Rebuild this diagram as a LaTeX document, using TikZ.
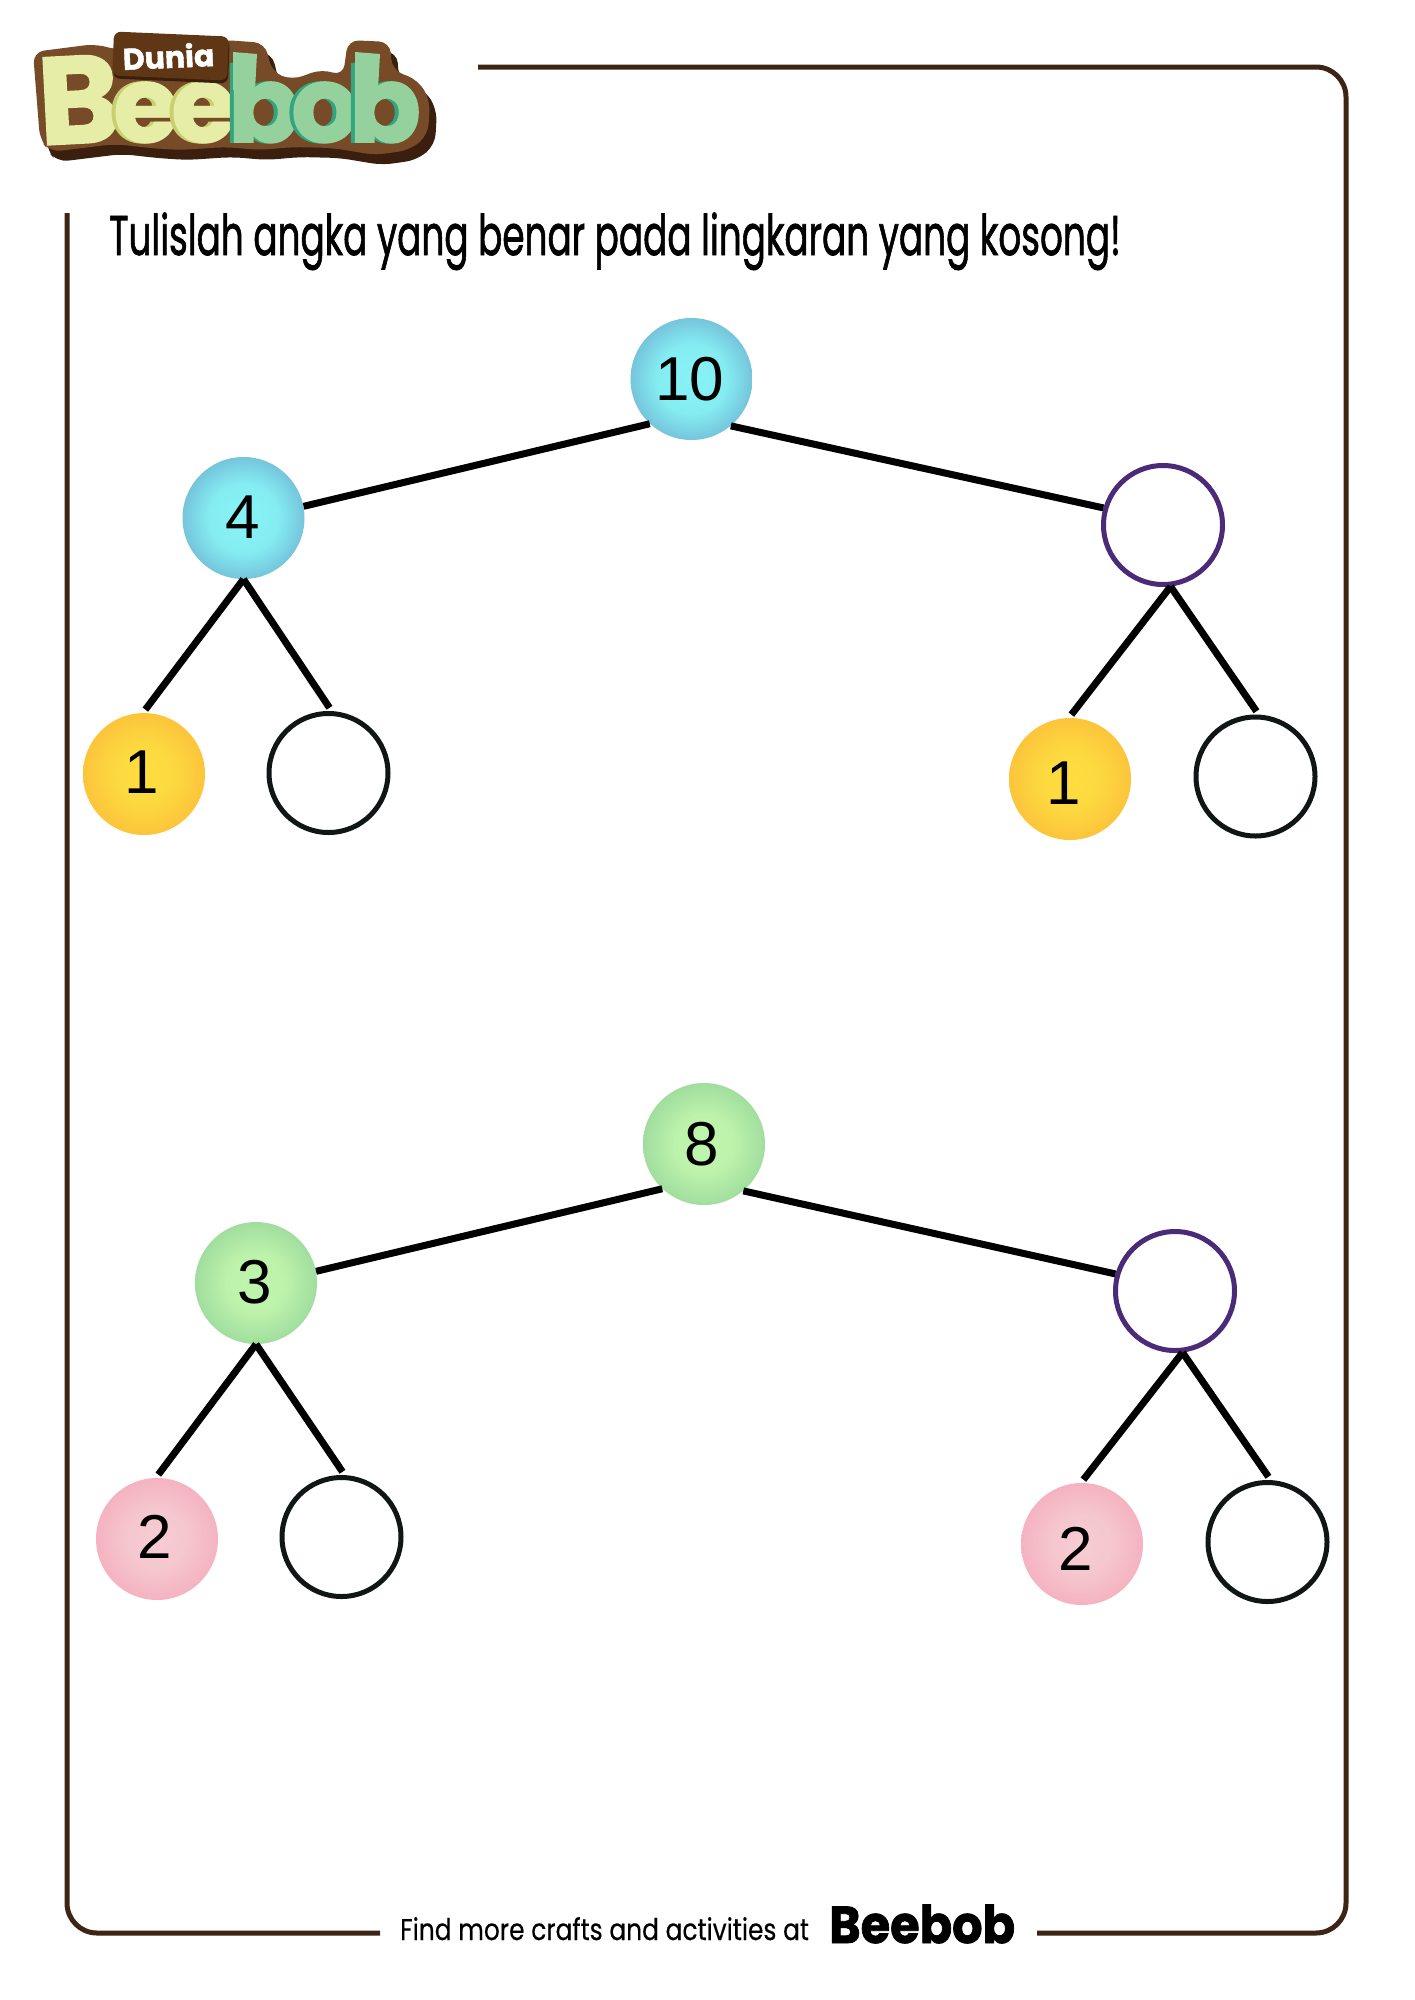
\documentclass[tikz,border=0pt]{standalone}
\usepackage{fontspec}
\setmainfont{Liberation Sans}
\newfontfamily\headfont[FakeBold=0.4]{Poppins}
\newfontfamily\taskfont[FakeBold=1.5]{Poppins}
\newfontfamily\logofont[FakeBold=1.5]{Poppins Bold}
\definecolor{framebrown}{HTML}{3E2415}
\definecolor{logodark}{HTML}{3A1F0F}
\definecolor{logomid}{HTML}{774B27}
\definecolor{logotag}{HTML}{5F3715}
\definecolor{logolime}{HTML}{E5EDA6}
\definecolor{logolimedk}{HTML}{C8CF6E}
\definecolor{logomint}{HTML}{94D19C}
\definecolor{logomintdk}{HTML}{31A57F}
\definecolor{ringpurple}{HTML}{4B2A78}
\definecolor{ringblack}{HTML}{101616}
\pgfdeclareradialshading{bluewash}{\pgfpoint{0bp}{0bp}}{rgb(0bp)=(.53,.95,.96); rgb(14bp)=(.52,.93,.95); rgb(25bp)=(.46,.77,.86); rgb(50bp)=(.46,.77,.86)}
\pgfdeclareradialshading{yellowwash}{\pgfpoint{0bp}{0bp}}{rgb(0bp)=(1,.87,.25); rgb(12bp)=(.99,.85,.25); rgb(25bp)=(.99,.77,.23); rgb(50bp)=(.99,.77,.23)}
\pgfdeclareradialshading{greenwash}{\pgfpoint{0bp}{0bp}}{rgb(0bp)=(.75,.96,.68); rgb(12bp)=(.74,.95,.67); rgb(25bp)=(.63,.87,.62); rgb(50bp)=(.63,.87,.62)}
\pgfdeclareradialshading{pinkwash}{\pgfpoint{0bp}{0bp}}{rgb(0bp)=(.97,.80,.83); rgb(12bp)=(.96,.78,.81); rgb(25bp)=(.96,.70,.76); rgb(50bp)=(.96,.70,.76)}
\begin{document}
\begin{tikzpicture}[
  x=1pt, y=-1pt,
  bubble/.style={circle, minimum size=122pt, inner sep=0pt, shading=#1},
  ring/.style={circle, minimum size=119pt, inner sep=0pt, draw=#1, line width=5pt},
  digit/.style={inner sep=0pt, font=\fontsize{62}{62}\selectfont},
  branch/.style={black, line width=7pt},
  twig/.style={branch, shorten >=4pt},
  logoletter/.style={anchor=base, inner sep=0pt, font=\logofont\fontsize{#1}{#1}\selectfont},
]
\useasboundingbox (0,0) rectangle (1414,2000);

% Frame
\draw[framebrown, line width=5pt, rounded corners=30pt]
  (67,213) -- (67,1933) -- (380,1933);
\draw[framebrown, line width=5pt, rounded corners=30pt]
  (1037,1933) -- (1346,1933) -- (1346,67) -- (478,67);

% Logo
\foreach \dx/\dy/\shade in {7/10/logodark, 0/0/logomid} {
  \fill[\shade, rounded corners=11pt, shift={(\dx,\dy)}]
    (33,52) -- (95,44) -- (118,50) -- (225,40) -- (265,43) -- (272,72) -- (292,80)
    -- (322,69) -- (343,76) -- (348,40) -- (390,42) -- (392,70) -- (418,80)
    -- (430,100) -- (428,135) -- (410,150) -- (375,155) -- (333,148) -- (293,147)
    -- (260,150) -- (225,147) -- (180,150) -- (150,148) -- (115,144) -- (50,152)
    -- (40,140) -- cycle;
}
\node[logoletter=124, text=logolime, rotate=3] (logoB) at (81,143) {B};
\foreach \nm/\x/\ch/\lite/\dark in {ea/146/e/logolime/logolimedk, eb/204/e/logolime/logolimedk,
    ba/264/b/logomint/logomintdk, oa/325/o/logomint/logomintdk, bb/385/b/logomint/logomintdk} {
  \node[logoletter=106, text=\dark] (\nm shadow) at (\x-4,142) {\ch};
  \node[logoletter=106, text=\lite] (\nm) at (\x,142) {\ch};
}
% b stems reach higher than the font does
\fill[logomint] (233,52) -- (257,54) -- (255,90) -- (233,90) -- cycle;
\fill[logomint] (355,52) -- (380,54) -- (378,90) -- (355,90) -- cycle;
\fill[logodark, rounded corners=7pt, rotate around={-2.5:(170,57)}]
  (114,37) rectangle (229,81);
\fill[logotag, rounded corners=7pt, rotate around={-2.5:(170,57)}]
  (113,34) rectangle (228,78);
\node[logoletter=30, text=white, rotate=2.5] (logotitle) at (169,68) {Dunia};

% Instruction
\node[anchor=base west, inner sep=0pt, xscale=0.64, font=\taskfont\fontsize{56}{56}\selectfont] (task) at (109,255)
  {Tulislah angka yang benar pada lingkaran yang kosong!};

% Trees
\foreach \nm/\x/\y/\wash in {ten/691.5/379/bluewash, fourb/243.5/518/bluewash, onea/144/774/yellowwash,
    oneb/1070/779/yellowwash, eight/704/1144/greenwash, threeb/256/1283/greenwash,
    twoa/157/1539/pinkwash, twob/1082/1544/pinkwash} {
  \node[bubble=\wash] (\nm) at (\x,\y) {};
}
\foreach \nm/\x/\y/\col in {gapa/1163/525/ringpurple, gapb/328.5/773/ringblack, gapc/1255.5/776.5/ringblack,
    gapd/1175/1291/ringpurple, gape/341.5/1537/ringblack, gapf/1267.5/1542/ringblack} {
  \node[ring=\col] (\nm) at (\x,\y) {};
}
\foreach \nm/\x/\y/\lbl in {labten/690/379/10, labfour/242.5/517/4, labonea/142/772/1, laboneb/1063.5/783/1,
    labeight/701.5/1144/8, labthree/254.5/1282/3, labtwoa/155/1537/2, labtwob/1076/1549/2} {
  \node[digit] (\nm) at (\x,\y) {\lbl};
}

% Connectors
\draw[branch] (fourb.11) -- (ten.227);
\draw[branch] (ten.-50) -- (gapa.164);
\draw[twig] (fourb.south) -- (onea.91);
\draw[twig] (fourb.south) -- (gapb.87);
\draw[twig] (gapa.-83) -- (oneb.91);
\draw[twig] (gapa.-83) -- (gapc.87);
\draw[branch] (threeb.11) -- (eight.227);
\draw[branch] (eight.-50) -- (gapd.164);
\draw[twig] (threeb.south) -- (twoa.91);
\draw[twig] (threeb.south) -- (gape.87);
\draw[twig] (gapd.-83) -- (twob.91);
\draw[twig] (gapd.-83) -- (gapf.87);

% Footer
\node[anchor=base west, inner sep=0pt, xscale=0.83, font=\headfont\fontsize{30}{30}\selectfont] (footer) at (400,1940)
  {Find more crafts and activities at};
\node[logoletter=52, anchor=base west, xscale=0.92] (footlogo) at (829,1943) {Beebob};
\end{tikzpicture}
\end{document}
